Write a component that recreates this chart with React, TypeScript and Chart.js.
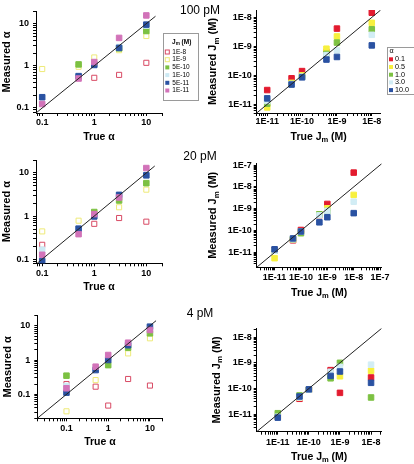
import React, { useEffect, useRef } from 'react';
import { Chart, registerables } from 'chart.js';
Chart.register(...registerables);

// ---------- DATA ----------
const rowTitles = ['100 pM', '20 pM', '4 pM'];
const alphaTrue = [0.1, 0.5, 1, 3, 10];
const jmTrue = [1e-11, 5e-11, 1e-10, 5e-10, 1e-9, 1e-8];
const jmSeriesLabels = ['1E-8', '1E-9', '5E-10', '1E-10', '5E-11', '1E-11'];
const alphaSeriesLabels = ['0.1', '0.5', '1.0', '3.0', '10.0'];

const alphaTickValues = [0.1, 1, 10];
const alphaTickLabels = ['0.1', '1', '10'];
const jmTickValues = [1e-11, 1e-10, 1e-9, 1e-8, 1e-7];
const jmTickLabels = ['1E-11', '1E-10', '1E-9', '1E-8', '1E-7'];

// measured alpha, 100 pM (one array per true Jm)
const a100_1E8 = [null, null, 0.52, 0.61, 1.18];
const a100_1E9 = [0.84, 0.95, 1.58, 2.35, 5.1];
const a100_5E10 = [null, 1.08, 1.1, 2.6, 6.7];
const a100_1E10 = [null, 0.55, 1.05, 2.8, 9.0];
const a100_5E11 = [0.18, 0.57, 1.05, 2.67, 9.5];
const a100_1E11 = [0.124, 0.5, 1.23, 4.6, 15.7];
// 20 pM
const a20_1E8 = [0.215, null, 0.66, 0.9, 0.74];
const a20_1E9 = [0.44, 0.78, null, 1.6, 4.1];
const a20_5E10 = [null, null, 1.24, 2.3, 5.8];
const a20_1E10 = [0.165, 0.5, 1.0, 3.0, 9.0];
const a20_5E11 = [0.09, 0.51, 0.98, 3.1, 8.8];
const a20_1E11 = [0.126, 0.38, 1.11, 2.7, 13];
// 4 pM
const a4_1E8 = [0.2, 0.167, 0.047, 0.28, 0.18];
const a4_1E9 = [0.032, 0.26, null, 1.56, 4.3];
const a4_5E10 = [0.35, null, 0.71, 2.3, 6.0];
const a4_1E10 = [0.175, 0.55, 1.1, 3.0, 9.0];
const a4_5E11 = [0.112, 0.51, 1.0, 2.7, 9.4];
const a4_1E11 = [0.15, 0.64, 1.4, 3.2, 7.5];

// measured Jm (M), 100 pM (one array per true alpha)
const j100_a01 = [3.1e-11, 7.9e-11, 1.4e-10, 6.3e-10, 4.1e-9, 1.45e-8];
const j100_a05 = [7.8e-12, 5.5e-11, 1.0e-10, 8.3e-10, 2.2e-9, 6.5e-9];
const j100_a1 = [1.05e-11, 5e-11, 9e-11, 5.5e-10, 1.35e-9, 3.9e-9];
const j100_a3 = [1.3e-11, 5e-11, 9e-11, 5e-10, 7.2e-10, 2.5e-9];
const j100_a10 = [1.6e-11, 4.8e-11, 8.5e-11, 3.5e-10, 4.3e-10, 1.08e-9];
// 20 pM
const j20_a01 = [1.3e-11, 3.6e-11, 1.07e-10, 5e-10, 1.66e-9, 4.5e-8];
const j20_a05 = [5.5e-12, 4e-11, 9e-11, 5.5e-10, 1.05e-9, 4.3e-9];
const j20_a1 = [1.2e-11, 4e-11, 7.6e-11, 5.6e-10, 7.9e-10, null];
const j20_a3 = [1.2e-11, 4e-11, 9e-11, 5e-10, 8e-10, 2.1e-9];
const j20_a10 = [1.4e-11, 4.4e-11, 9.1e-11, 2.4e-10, 4.1e-10, 6.3e-10];
// 4 pM
const j4_a01 = [8e-12, 4e-11, 9e-11, 5.2e-10, 6.8e-11, 2.7e-10];
const j4_a05 = [8e-12, 4.5e-11, 9e-11, 3.5e-10, 3e-10, 4.9e-10];
const j4_a1 = [1.1e-11, 5.4e-11, 9e-11, 2.5e-10, 1e-9, 4.5e-11];
const j4_a3 = [8e-12, 4.5e-11, 9e-11, 4.5e-10, 7e-10, 8.5e-10];
const j4_a10 = [7.4e-12, 4.9e-11, 9.3e-11, 3.1e-10, 4.6e-10, 1.67e-10];

// identity line end points
const diag100a = [0.076, 15];
const diag20a = [0.08, 14.5];
const diag4a = [0.02, 14];
const diag100j = [5e-12, 1.8e-8];
const diag20j = [2.1e-12, 1.15e-7];
const diag4j = [2.1e-12, 2.2e-8];

// ---------- STYLE ----------
const FONT = '"Liberation Sans", Arial, sans-serif';
const jmStyles = [
  { color: '#d84a64', open: true },
  { color: '#eeea78', open: true },
  { color: '#7cc142', open: false },
  { color: '#cce9f3', open: false },
  { color: '#2a52a2', open: false },
  { color: '#d273b9', open: false },
];
const alphaStyles = [
  { color: '#e31b2f', open: false },
  { color: '#f7f03e', open: false },
  { color: '#7cc142', open: false },
  { color: '#d2edf5', open: false },
  { color: '#2a52a2', open: false },
];

type Part = [string, boolean];
const alphaX: Part[] = [['True \u03b1', false]];
const alphaY: Part[] = [['Measured \u03b1', false]];
const jmX: Part[] = [['True J', false], ['m', true], [' (M)', false]];
const jmY: Part[] = [['Measured J', false], ['m', true], [' (M)', false]];
const jmLegendHeader: Part[] = [['J', false], ['m', true], [' (M)', false]];
const alphaLegendHeader: Part[] = [['\u03b1', false]];

function drawRich(ctx: any, parts: Part[], x: number, y: number, size: number, weight: string, rotate: boolean) {
  ctx.save();
  ctx.translate(x, y);
  if (rotate) ctx.rotate(-Math.PI / 2);
  const sub = size * 0.72;
  let total = 0;
  const ws = parts.map(([t, s]) => {
    ctx.font = `${weight} ${s ? sub : size}px ${FONT}`;
    const w = ctx.measureText(t).width;
    total += w;
    return w;
  });
  let cx = -total / 2;
  ctx.textBaseline = 'middle';
  ctx.textAlign = 'left';
  ctx.fillStyle = '#000';
  parts.forEach(([t, s], i) => {
    ctx.font = `${weight} ${s ? sub : size}px ${FONT}`;
    ctx.fillText(t, cx, s ? size * 0.32 : 0);
    cx += ws[i];
  });
  ctx.restore();
}

const decorPlugin = {
  id: 'decor',
  afterDraw(chart: any, _args: any, o: any) {
    const ctx = chart.ctx;
    const ca = chart.chartArea;
    ctx.save();
    if (o.rowTitle) {
      ctx.font = `12px ${FONT}`;
      ctx.fillStyle = '#000';
      ctx.textAlign = 'center';
      ctx.textBaseline = 'middle';
      ctx.fillText(o.rowTitle.text, o.rowTitle.x, o.rowTitle.y);
    }
    drawRich(ctx, o.xTitle, (ca.left + ca.right) / 2, o.xTitleY, o.xTitleSize, 'bold', false);
    drawRich(ctx, o.yTitle, o.yTitleX, (ca.top + ca.bottom) / 2, o.yTitleSize, 'bold', true);
    const lg = o.legend;
    if (lg) {
      ctx.strokeStyle = '#9a9a9a';
      ctx.lineWidth = 1;
      ctx.strokeRect(Math.round(lg.x0) + 0.5, Math.round(lg.y0) + 0.5, Math.round(lg.x1 - lg.x0), Math.round(lg.y1 - lg.y0));
      drawRich(ctx, lg.header, lg.hx, lg.hy, lg.font, lg.headerWeight, false);
      const items = chart.data.datasets.filter((d: any) => d.inLegend);
      items.forEach((d: any, i: number) => {
        const y = lg.rowY + i * lg.dy;
        const s = lg.marker;
        if (d.open) {
          ctx.strokeStyle = d.borderColor;
          ctx.strokeRect(lg.mx - s / 2, y - s / 2, s, s);
        } else {
          ctx.fillStyle = d.backgroundColor;
          ctx.fillRect(lg.mx - s / 2, y - s / 2, s, s);
        }
        ctx.fillStyle = '#000';
        ctx.font = `${lg.font}px ${FONT}`;
        ctx.textAlign = 'left';
        ctx.textBaseline = 'middle';
        ctx.fillText(d.label, lg.tx, y);
      });
    }
    ctx.restore();
  },
};

function tickPositions(min: number, max: number) {
  const out: number[] = [];
  for (let k = Math.floor(Math.log10(min)); k <= Math.ceil(Math.log10(max)); k++) {
    for (let m = 1; m <= 9; m++) {
      const v = Number((m * Math.pow(10, k)).toPrecision(12));
      if (v >= min * (1 - 1e-9) && v <= max * (1 + 1e-9)) out.push(v);
    }
  }
  return out;
}

function labelFor(v: number, vals: number[], labels: string[]) {
  for (let i = 0; i < vals.length; i++) {
    if (Math.abs(Math.log10(v) - Math.log10(vals[i])) < 1e-6) return labels[i];
  }
  return '';
}

function makeScale(axis: 'x' | 'y', min: number, max: number, vals: number[], labels: string[], size: number, pad: number) {
  return {
    type: 'logarithmic',
    position: axis === 'x' ? 'bottom' : 'left',
    min,
    max,
    afterBuildTicks: (s: any) => {
      s.ticks = tickPositions(min, max).map((v) => ({ value: v }));
    },
    afterFit: (s: any) => {
      if (axis === 'x') s.height = size;
      else s.width = size;
    },
    ticks: {
      autoSkip: false,
      maxRotation: 0,
      minRotation: 0,
      padding: pad,
      color: '#000',
      font: { family: FONT, size: 9, weight: 'bold' },
      callback: (v: any) => labelFor(Number(v), vals, labels),
    },
    grid: {
      display: true,
      drawOnChartArea: false,
      drawTicks: true,
      tickLength: 3,
      color: '#000',
      tickColor: '#000',
    },
    border: { display: true, color: '#000', width: 1 },
    title: { display: false },
  };
}

interface PanelCfg {
  left: number; top: number; w: number; h: number;
  kind: 'alpha' | 'jm';
  series: (number | null)[][];
  xr: number[]; yr: number[]; diag: number[];
  yw: number; xh: number; padTop: number; padRight: number;
  xPad: number; yPad: number;
  xTitleY: number; yTitleX: number;
  rowTitle?: any; legend?: any;
}

const panels: PanelCfg[] = [
  {
    left: 0, top: 0, w: 230, h: 150, kind: 'alpha',
    series: [a100_1E8, a100_1E9, a100_5E10, a100_1E10, a100_5E11, a100_1E11],
    xr: [0.076, 20], yr: [0.076, 20], diag: diag100a,
    yw: 36, xh: 37, padTop: 11, padRight: 68, xPad: 1, yPad: 4,
    xTitleY: 136.7, yTitleX: 6.5,
    rowTitle: { text: rowTitles[0], x: 200, y: 11 },
    legend: {
      x0: 163.3, y0: 33, x1: 198.3, y1: 99.7,
      header: jmLegendHeader, headerWeight: 'bold', hx: 181.7, hy: 42,
      rowY: 52, dy: 7.7, mx: 167.3, tx: 172.3, font: 6.5, marker: 4,
    },
  },
  {
    left: 205, top: 0, w: 209, h: 150, kind: 'jm',
    series: [j100_a01, j100_a05, j100_a1, j100_a3, j100_a10],
    xr: [5e-12, 1.8e-8], yr: [5e-12, 1.8e-8], diag: diag100j,
    yw: 51.7, xh: 37, padTop: 10, padRight: 33.3, xPad: 0, yPad: 2,
    xTitleY: 136.7, yTitleX: 8.3,
    legend: {
      x0: 181.7, y0: 46.7, x1: 208.3, y1: 94,
      header: alphaLegendHeader, headerWeight: 'normal', hx: 186.5, hy: 51,
      rowY: 59.3, dy: 7.7, mx: 186, tx: 190, font: 7.2, marker: 4,
    },
  },
  {
    left: 0, top: 150, w: 230, h: 155, kind: 'alpha',
    series: [a20_1E8, a20_1E9, a20_5E10, a20_1E10, a20_5E11, a20_1E11],
    xr: [0.076, 20], yr: [0.08, 20], diag: diag20a,
    yw: 36, xh: 41.7, padTop: 10, padRight: 68, xPad: 2, yPad: 4,
    xTitleY: 136.7, yTitleX: 6.5,
    rowTitle: { text: rowTitles[1], x: 200, y: 7 },
  },
  {
    left: 205, top: 150, w: 209, h: 155, kind: 'jm',
    series: [j20_a01, j20_a05, j20_a1, j20_a3, j20_a10],
    xr: [2.1e-12, 1.15e-7], yr: [2.1e-12, 1.2e-7], diag: diag20j,
    yw: 51.7, xh: 37.7, padTop: 13.3, padRight: 32.3, xPad: 2, yPad: 2,
    xTitleY: 142.7, yTitleX: 8.3,
  },
  {
    left: 0, top: 305, w: 230, h: 159, kind: 'alpha',
    series: [a4_1E8, a4_1E9, a4_5E10, a4_1E10, a4_5E11, a4_1E11],
    xr: [0.02, 20], yr: [0.02, 20], diag: diag4a,
    yw: 37.3, xh: 45.7, padTop: 10.4, padRight: 67.5, xPad: 2, yPad: 4,
    xTitleY: 137.3, yTitleX: 7.7,
    rowTitle: { text: rowTitles[2], x: 200, y: 9 },
  },
  {
    left: 205, top: 305, w: 209, h: 159, kind: 'jm',
    series: [j4_a01, j4_a05, j4_a1, j4_a3, j4_a10],
    xr: [2.1e-12, 2.2e-8], yr: [2.1e-12, 2.2e-8], diag: diag4j,
    yw: 51.7, xh: 32.3, padTop: 23.3, padRight: 32.3, xPad: 2, yPad: 2,
    xTitleY: 151.7, yTitleX: 11.7,
  },
];

function Panel({ cfg }: { cfg: PanelCfg }) {
  const ref = useRef<HTMLCanvasElement | null>(null);
  useEffect(() => {
    if (!ref.current) return;
    const isAlpha = cfg.kind === 'alpha';
    const xs = isAlpha ? alphaTrue : jmTrue;
    const names = isAlpha ? jmSeriesLabels : alphaSeriesLabels;
    const styles = isAlpha ? jmStyles : alphaStyles;
    const n = cfg.series.length;
    const datasets: any[] = cfg.series.map((vals, i) => {
      const st = styles[i];
      return {
        label: names[i],
        data: xs.map((x, j) => (vals[j] == null ? null : { x, y: vals[j] })).filter((p) => p !== null),
        pointStyle: 'rect',
        pointRadius: st.open ? 3.6 : 3.9,
        pointHoverRadius: st.open ? 3.6 : 3.9,
        borderWidth: 1,
        borderColor: st.color,
        backgroundColor: st.open ? 'rgba(255,255,255,0)' : st.color,
        showLine: false,
        order: n - i,
        open: st.open,
        inLegend: true,
      };
    });
    datasets.push({
      type: 'line',
      label: 'identity',
      data: cfg.diag.map((v) => ({ x: v, y: v })),
      borderColor: '#222',
      borderWidth: 1,
      pointRadius: 0,
      showLine: true,
      fill: false,
      order: -1,
      inLegend: false,
    });
    const tv = isAlpha ? alphaTickValues : jmTickValues;
    const tl = isAlpha ? alphaTickLabels : jmTickLabels;
    const chart = new Chart(ref.current, {
      type: 'scatter',
      data: { datasets },
      options: {
        responsive: false,
        animation: false,
        devicePixelRatio: 1,
        events: [],
        layout: { autoPadding: false, padding: { left: 0, bottom: 0, top: cfg.padTop, right: cfg.padRight } },
        scales: {
          x: makeScale('x', cfg.xr[0], cfg.xr[1], tv, tl, cfg.xh, cfg.xPad),
          y: makeScale('y', cfg.yr[0], cfg.yr[1], tv, tl, cfg.yw, cfg.yPad),
        },
        plugins: {
          legend: { display: false },
          tooltip: { enabled: false },
          title: { display: false },
          decor: {
            rowTitle: cfg.rowTitle,
            xTitle: isAlpha ? alphaX : jmX,
            yTitle: isAlpha ? alphaY : jmY,
            xTitleY: cfg.xTitleY,
            yTitleX: cfg.yTitleX,
            xTitleSize: 10.5,
            yTitleSize: 11,
            legend: cfg.legend,
          },
        },
      } as any,
      plugins: [decorPlugin as any],
    });
    return () => chart.destroy();
  }, [cfg]);
  return (
    <canvas
      ref={ref}
      width={cfg.w}
      height={cfg.h}
      style={{ position: 'absolute', left: cfg.left, top: cfg.top, width: cfg.w, height: cfg.h }}
    />
  );
}

export default function App() {
  return (
    <div style={{ position: 'absolute', left: 0, top: 0, width: 414, height: 464, background: '#fff', overflow: 'hidden' }}>
      {panels.map((p, i) => (
        <Panel key={i} cfg={p} />
      ))}
    </div>
  );
}
